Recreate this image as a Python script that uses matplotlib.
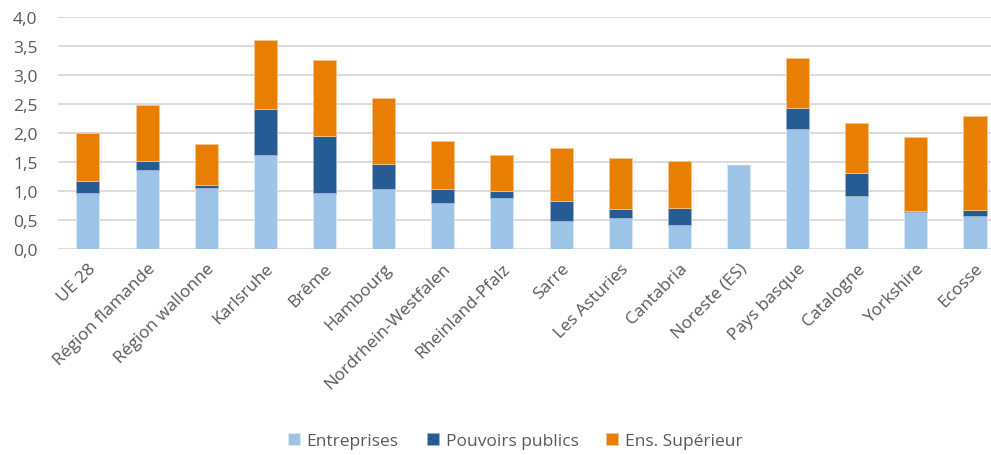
import matplotlib.pyplot as plt
import numpy as np
from matplotlib.ticker import FuncFormatter

# Dépenses de R&D par secteur (% du PIB)
regions = ['UE 28', 'Région flamande', 'Région wallonne', 'Karlsruhe', 'Brême',
           'Hambourg', 'Nordrhein-Westfalen', 'Rheinland-Pfalz', 'Sarre',
           'Les Asturies', 'Cantabria', 'Noreste (ES)', 'Pays basque',
           'Catalogne', 'Yorkshire', 'Ecosse']
entreprises = [0.96, 1.36, 1.05, 1.63, 0.96, 1.03, 0.79, 0.88, 0.48,
               0.53, 0.41, 1.45, 2.07, 0.91, 0.63, 0.57]
pouvoirs_publics = [0.21, 0.16, 0.05, 0.78, 0.99, 0.43, 0.24, 0.12, 0.34,
                    0.16, 0.30, 0.00, 0.36, 0.40, 0.03, 0.10]
ens_superieur = [0.83, 0.96, 0.71, 1.19, 1.31, 1.14, 0.83, 0.62, 0.92,
                 0.88, 0.81, 0.00, 0.86, 0.86, 1.27, 1.62]

c_ent = '#9DC3E6'
c_pub = '#265C93'
c_sup = '#E97F02'
text_col = '#595959'

plt.rcParams['font.family'] = ['Open Sans', 'DejaVu Sans']

fig = plt.figure(figsize=(9.91, 4.56), dpi=100)
ax = fig.add_axes([0.0589, 0.4518, 0.9548, 0.5081])

x = np.arange(len(regions))
w = 0.39
ent = np.array(entreprises)
pub = np.array(pouvoirs_publics)
sup = np.array(ens_superieur)

ax.bar(x, ent, w, color=c_ent, edgecolor='#DDEBF7', linewidth=0.6, label='Entreprises', zorder=3)
ax.bar(x, pub, w, bottom=ent, color=c_pub, edgecolor='#9DB6D0', linewidth=0.6, label='Pouvoirs publics', zorder=3)
ax.bar(x, sup, w, bottom=ent + pub, color=c_sup, edgecolor='#F6C48A', linewidth=0.6, label='Ens. Supérieur', zorder=3)

ax.set_xlim(-0.5, len(regions) - 0.5)
ax.set_ylim(0, 4.0)
ax.set_yticks(np.arange(0, 4.01, 0.5))
ax.yaxis.set_major_formatter(FuncFormatter(lambda v, p: f'{v:.1f}'.replace('.', ',')))
ax.grid(axis='y', color='#D9D9D9', linewidth=1.3, zorder=0)
for s in ax.spines.values():
    s.set_visible(False)
ax.tick_params(axis='both', length=0, colors=text_col, labelsize=12.5)
ax.tick_params(axis='y', pad=15)

ax.set_xticks(x)
ax.set_xticklabels(regions, rotation=45, ha='right', rotation_mode='anchor')
ax.tick_params(axis='x', pad=8)

fig.legend(loc='lower center', bbox_to_anchor=(0.52, -0.022), ncol=3, frameon=False,
           fontsize=12.5, handlelength=0.7, handleheight=0.7, handletextpad=0.4,
           columnspacing=1.6, labelcolor=text_col)

fig.savefig('out.png', dpi=100)
